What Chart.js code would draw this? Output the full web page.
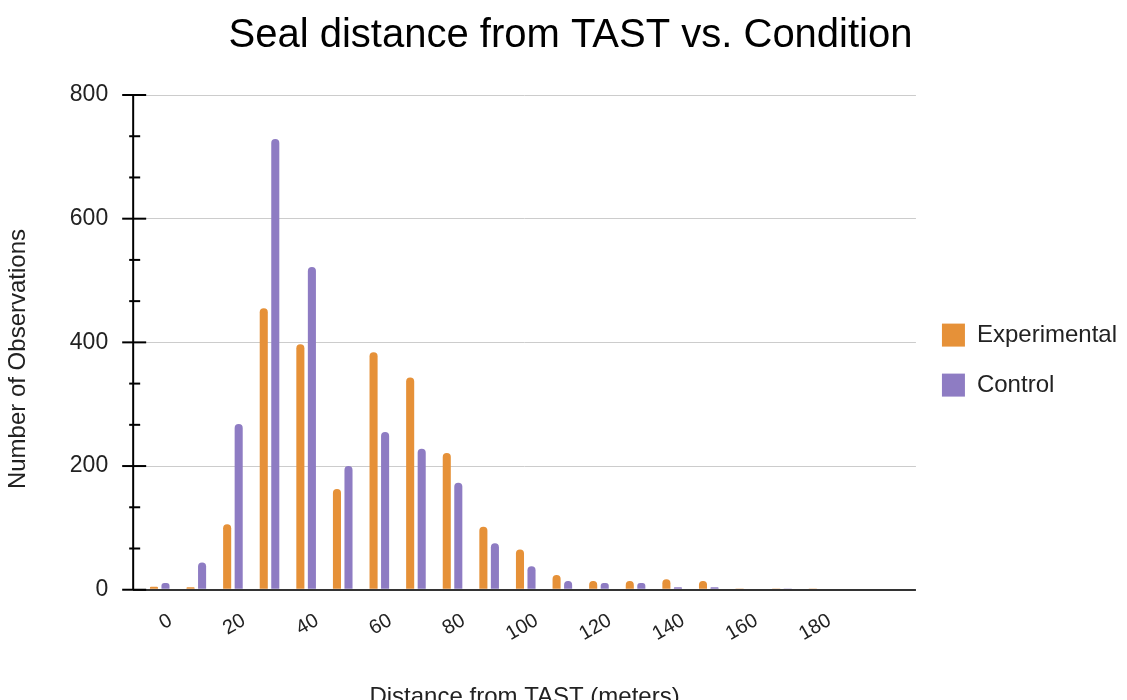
<!DOCTYPE html>
<html>
<head>
<meta charset="utf-8">
<script src="https://cdn.jsdelivr.net/npm/chart.js@4.4.1/dist/chart.umd.min.js"></script>
<style>
  html, body { margin: 0; padding: 0; background: #fff; }
  #wrap { width: 1127px; height: 700px; }
</style>
</head>
<body>
<div id="wrap"><canvas id="chart"></canvas></div>
<script>
// distance buckets (meters) and observation counts
const distances = [0, 10, 20, 30, 40, 50, 60, 70, 80, 90, 100, 110, 120, 130, 140, 150, 160, 170, 180];
const experimental = [5, 4, 106, 455, 397, 163, 384, 343, 221, 102, 65, 24, 14, 14, 17, 14, 2, 2, 2];
const control = [11, 44, 268, 729, 522, 200, 255, 228, 173, 75, 38, 14, 11, 11, 4, 4, 0, 2, 0];
const xTickLabels = [0, 20, 40, 60, 80, 100, 120, 140, 160, 180];
const yTickLabels = [0, 200, 400, 600, 800];

const FONT = '"Liberation Sans", Arial, sans-serif';
const ORANGE = '#e69138';
const PURPLE = '#8e7cc3';

// black y axis with long major ticks and short minor ticks crossing it
const yAxisTicks = {
    id: 'yAxisTicks',
    afterDraw(chart) {
        const { ctx, chartArea, scales: { y } } = chart;
        const x0 = chartArea.left;
        ctx.save();
        ctx.strokeStyle = '#000';
        ctx.lineWidth = 2;
        ctx.beginPath();
        ctx.moveTo(x0, chartArea.top);
        ctx.lineTo(x0, chartArea.bottom);
        ctx.stroke();
        for (let i = 0; i < yTickLabels.length; i++) {
            const py = y.getPixelForValue(yTickLabels[i]);
            ctx.beginPath();
            ctx.moveTo(x0 - 11, py);
            ctx.lineTo(x0 + 13, py);
            ctx.stroke();
            if (i < yTickLabels.length - 1) {
                const step = (yTickLabels[i + 1] - yTickLabels[i]) / 3;
                for (let k = 1; k < 3; k++) {
                    const my = y.getPixelForValue(yTickLabels[i] + step * k);
                    ctx.beginPath();
                    ctx.moveTo(x0 - 4, my);
                    ctx.lineTo(x0 + 7, my);
                    ctx.stroke();
                }
            }
        }
        ctx.restore();
    }
};

const barStyle = {
    categoryPercentage: 0.63,
    barPercentage: 0.7,
    borderRadius: 4,
    borderSkipped: 'start'
};

new Chart(document.getElementById('chart'), {
    type: 'bar',
    data: {
        datasets: [
            Object.assign({
                label: 'Experimental',
                data: distances.map((d, i) => ({ x: d, y: experimental[i] })),
                backgroundColor: ORANGE
            }, barStyle),
            Object.assign({
                label: 'Control',
                data: distances.map((d, i) => ({ x: d, y: control[i] })),
                backgroundColor: PURPLE
            }, barStyle)
        ]
    },
    options: {
        responsive: true,
        maintainAspectRatio: false,
        animation: false,
        layout: { padding: { left: 14, right: 0, top: 0, bottom: 0 } },
        scales: {
            x: {
                type: 'linear',
                offset: false,
                min: -7.25,
                max: 206.6,
                grid: { display: false },
                border: { display: false },
                afterBuildTicks: s => { s.ticks = xTickLabels.map(v => ({ value: v })); },
                ticks: {
                    autoSkip: false,
                    minRotation: 30,
                    maxRotation: 30,
                    padding: 11,
                    labelOffset: 11,
                    color: '#222',
                    font: { family: FONT, size: 20 }
                },
                title: {
                    display: true,
                    text: 'Distance from TAST (meters)',
                    color: '#222',
                    font: { family: FONT, size: 24 },
                    padding: { top: 26, bottom: -12 }
                }
            },
            y: {
                min: 0,
                max: 800,
                afterBuildTicks: s => { s.ticks = yTickLabels.map(v => ({ value: v })); },
                grid: {
                    color: c => c.tick && c.tick.value === 0 ? '#333' : '#cccccc',
                    lineWidth: c => c.tick && c.tick.value === 0 ? 2 : 1,
                    tickLength: 11,
                    tickColor: 'rgba(0,0,0,0)'
                },
                border: { display: false },
                ticks: {
                    padding: 14,
                    color: '#222',
                    font: { family: FONT, size: 23 }
                },
                title: {
                    display: true,
                    text: 'Number of Observations     ',
                    color: '#222',
                    font: { family: FONT, size: 24 },
                    padding: { top: -10, bottom: 23 }
                }
            }
        },
        plugins: {
            title: {
                display: true,
                text: 'Seal distance from TAST vs. Condition',
                color: '#000',
                font: { family: FONT, size: 40, weight: 'normal' },
                padding: { top: 12, bottom: 35 }
            },
            legend: {
                position: 'right',
                align: 'center',
                title: { display: true, text: '', padding: 9.5, font: { size: 1 } },
                labels: {
                    boxWidth: 23,
                    boxHeight: 23,
                    padding: 26,
                    color: '#222',
                    font: { family: FONT, size: 24 }
                }
            },
            tooltip: { enabled: false }
        }
    },
    plugins: [yAxisTicks]
});
</script>
</body>
</html>
